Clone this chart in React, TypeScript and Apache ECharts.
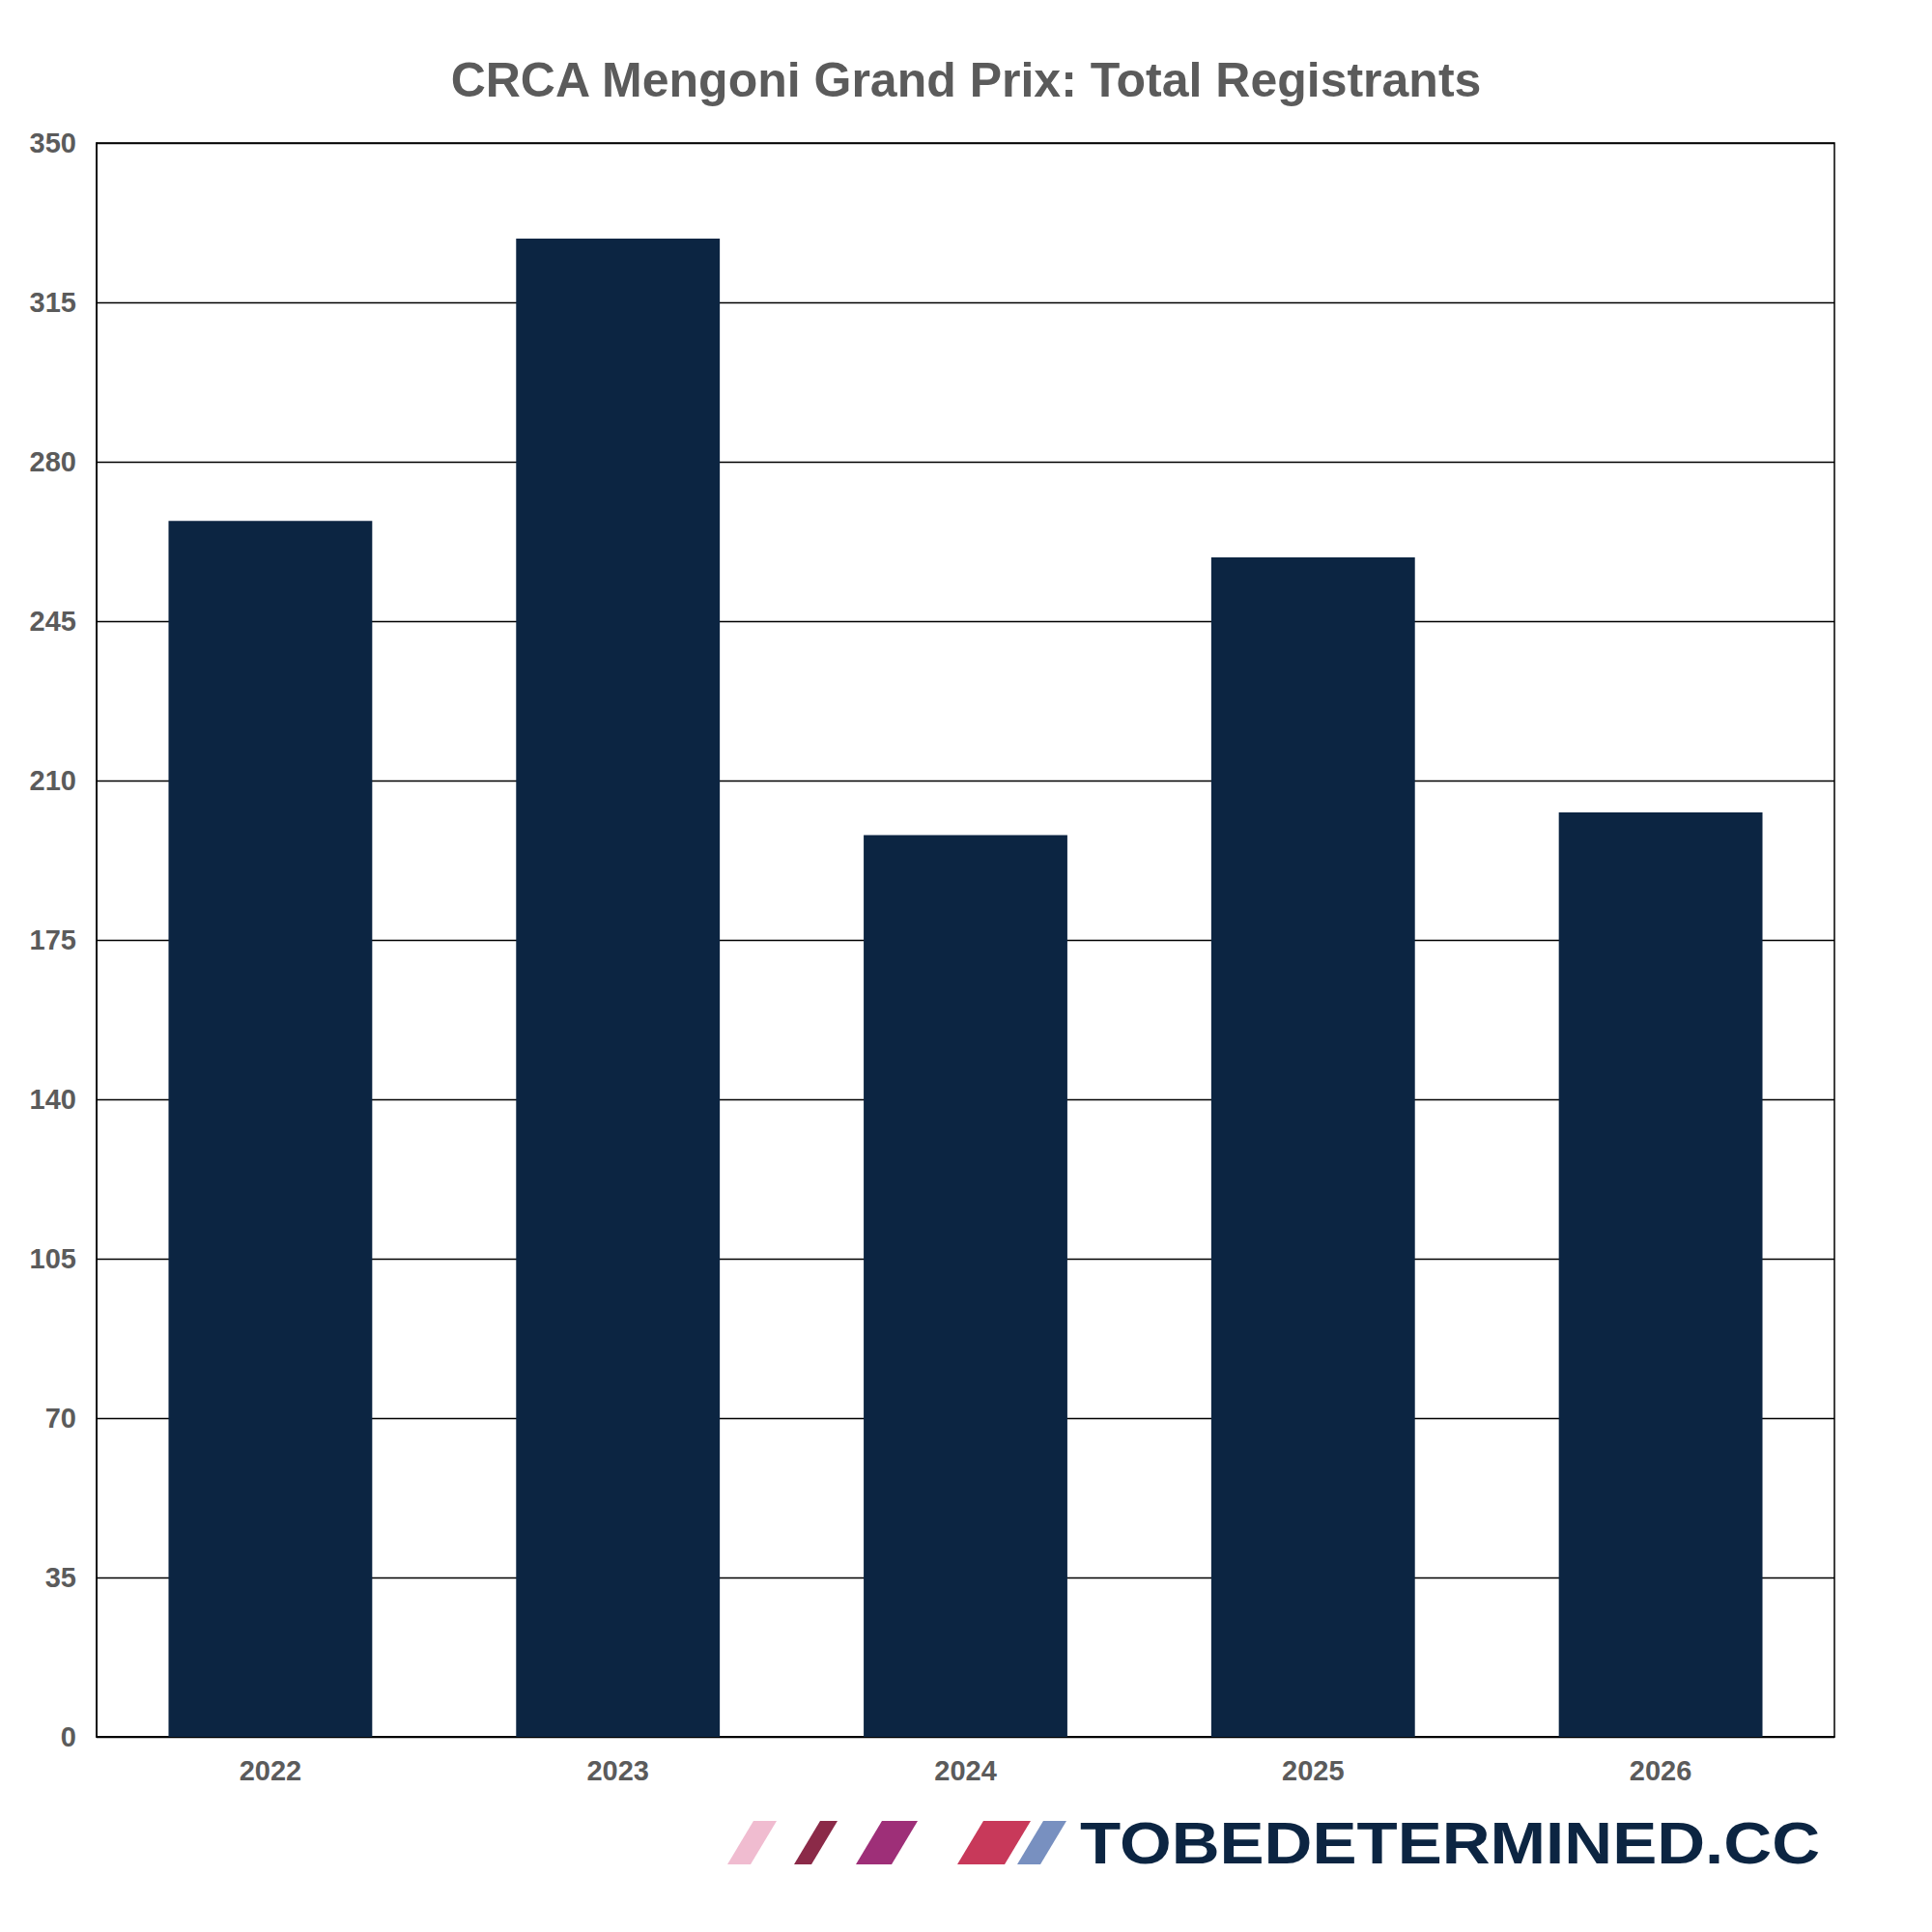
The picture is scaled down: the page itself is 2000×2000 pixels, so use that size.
import React, { useEffect, useRef } from "react";
import * as echarts from "echarts";

const categories = ["2022", "2023", "2024", "2025", "2026"];
const registrants = [267, 329, 198, 259, 203];
const titleText = "CRCA Mengoni Grand Prix: Total Registrants";
const brandText = "TOBEDETERMINED.CC";

const NAVY = "#0c2542";
const GREY = "#5b5b5b";
const FONT = "'Liberation Sans', Arial, Helvetica, sans-serif";

function stripe(x0: number, w: number, color: string) {
  // parallelogram, bottom from x0 to x0+w, slanted to the right
  const top = 1885;
  const bottom = 1930;
  const slant = 27;
  return {
    type: "polygon",
    shape: {
      points: [
        [x0, bottom],
        [x0 + w, bottom],
        [x0 + w + slant, top],
        [x0 + slant, top],
      ],
    },
    style: { fill: color },
    silent: true,
  };
}

export default function App() {
  const ref = useRef<HTMLDivElement>(null);
  useEffect(() => {
    document.body.style.margin = "0";
    if (!ref.current) return;
    const chart = echarts.init(ref.current, null, { renderer: "svg" });
    chart.setOption({
      animation: false,
      backgroundColor: "#ffffff",
      title: {
        text: titleText,
        left: "center",
        top: 58,
        padding: 0,
        textStyle: {
          fontFamily: FONT,
          fontWeight: "bold",
          fontSize: 50,
          color: GREY,
        },
      },
      grid: {
        left: 100,
        right: 101,
        top: 148,
        bottom: 202,
        show: true,
        borderColor: "#000",
        borderWidth: 1.5,
        containLabel: false,
      },
      xAxis: {
        type: "category",
        data: categories,
        axisLine: { show: true, lineStyle: { color: "#000", width: 1.5 } },
        axisTick: { show: false },
        axisLabel: {
          margin: 20,
          fontFamily: FONT,
          fontWeight: "bold",
          fontSize: 29,
          color: GREY,
        },
        splitLine: { show: false },
      },
      yAxis: {
        type: "value",
        min: 0,
        max: 350,
        interval: 35,
        axisLine: { show: true, lineStyle: { color: "#000", width: 1.5 } },
        axisTick: { show: false },
        axisLabel: {
          margin: 21,
          fontFamily: FONT,
          fontWeight: "bold",
          fontSize: 29,
          color: GREY,
        },
        splitLine: { show: true, lineStyle: { color: "#000", width: 1.3 } },
      },
      series: [
        {
          type: "bar",
          data: registrants,
          barWidth: "58.6%",
          itemStyle: { color: NAVY },
          silent: true,
        },
      ],
      graphic: [
        stripe(753, 24, "#f0bcd0"),
        stripe(822, 18, "#8b2a48"),
        stripe(886, 37, "#9e2f78"),
        stripe(991, 49, "#c8395a"),
        stripe(1053, 24, "#7890c0"),
        {
          type: "text",
          x: 1884,
          y: 1908,
          scaleX: 1.114,
          originX: 0,
          originY: 0,
          style: {
            text: brandText,
            x: 0,
            y: 0,
            fontFamily: FONT,
            fontWeight: "bold",
            fontSize: 62,
            fill: NAVY,
            align: "right",
            verticalAlign: "middle",
          },
          silent: true,
        },
      ],
    });
    return () => chart.dispose();
  }, []);
  return <div ref={ref} style={{ width: 2000, height: 2000 }} />;
}
